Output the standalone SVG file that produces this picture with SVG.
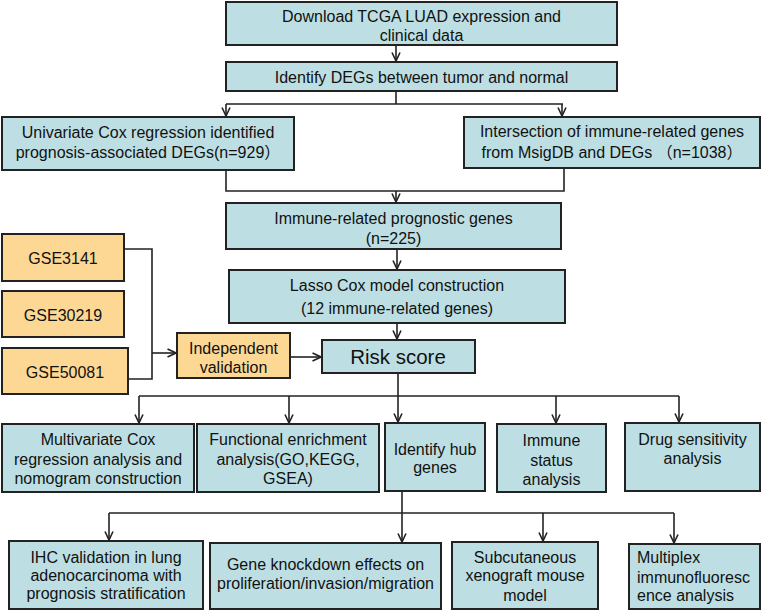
<svg xmlns="http://www.w3.org/2000/svg" width="762" height="612" viewBox="0 0 762 612">
<defs>
<style>
.b{fill:#bddfe3;stroke:#222;stroke-width:2}
.o{fill:#fdd894;stroke:#222;stroke-width:2}
text{font-family:"Liberation Sans",Arial,"Noto Sans CJK SC",sans-serif;font-size:16px;fill:#111;text-anchor:middle}
.c path{fill:none;stroke:#222;stroke-width:1.6}
.a{marker-end:url(#ah)}
</style>
<marker id="ah" viewBox="0 0 10 10" refX="9.5" refY="5" markerWidth="10" markerHeight="10" markerUnits="userSpaceOnUse" orient="auto">
<path d="M1,1 L9.5,5 L1,9" fill="none" stroke="#222" stroke-width="1.6"/>
</marker>
</defs>
<rect width="762" height="612" fill="#fff"/>
<g class="c" id="connectors">
<path class="a" d="M396,45 V61"/>
<path d="M396,91 V104 M226,104 H563"/>
<path class="a" d="M226,104 V116"/>
<path class="a" d="M562,104 V116"/>
<path d="M226,170 V191 H564 V168"/>
<path class="a" d="M396,191 V202"/>
<path class="a" d="M397,249 V269"/>
<path class="a" d="M397,323 V339"/>
<path d="M124,249 H152 V379 H128"/>
<path class="a" d="M152,353 H176"/>
<path class="a" d="M290,357 H321"/>
<path class="a" d="M398,373 V422"/>
<path d="M139,396 H679"/>
<path class="a" d="M139,396 V423"/>
<path class="a" d="M289,396 V423"/>
<path class="a" d="M556,396 V423"/>
<path class="a" d="M679,396 V422"/>
<path class="a" d="M402,491 V542"/>
<path d="M109,513 H674"/>
<path class="a" d="M109,513 V540"/>
<path class="a" d="M543,513 V541"/>
<path class="a" d="M674,513 V543"/>
</g>
<g id="n1"><rect class="b" x="226" y="2" width="391" height="43"/><text x="421.5" y="21.5">Download TCGA LUAD expression and</text><text x="421.5" y="40.5">clinical data</text></g>
<g id="n2"><rect class="b" x="226" y="62" width="391" height="29"/><text x="421.5" y="82.5">Identify DEGs between tumor and normal</text></g>
<g id="n3"><rect class="b" x="2" y="117" width="292" height="53"/><text x="148" y="137.5">Univariate Cox regression identified</text><text x="148" y="157.5">prognosis-associated DEGs(n=929）</text></g>
<g id="n4"><rect class="b" x="464" y="117" width="296" height="51"/><text x="612" y="136.5">Intersection of immune-related genes</text><text x="612" y="157.5">from MsigDB and DEGs （n=1038）</text></g>
<g id="n5"><rect class="b" x="226" y="203" width="335" height="46"/><text x="393.5" y="223.5">Immune-related prognostic genes</text><text x="393.5" y="243.5">(n=225)</text></g>
<g id="n6"><rect class="b" x="229" y="270" width="336" height="53"/><text x="397" y="290.5">Lasso Cox model construction</text><text x="397" y="313.5">(12 immune-related genes)</text></g>
<g id="risk"><rect class="b" x="322" y="340" width="153" height="33"/><text x="398" y="364" style="font-size:20.5px">Risk score</text></g>
<g id="gse3141"><rect class="o" x="2" y="234" width="122" height="47"/><text x="63" y="263.5">GSE3141</text></g>
<g id="gse30219"><rect class="o" x="2" y="291" width="122" height="46"/><text x="63" y="320.5">GSE30219</text></g>
<g id="gse50081"><rect class="o" x="2" y="348" width="126" height="46"/><text x="65" y="377.5">GSE50081</text></g>
<g id="indep"><rect class="o" x="177" y="333" width="113" height="45"/><text x="233.5" y="353.5">Independent</text><text x="233.5" y="372.5">validation</text></g>
<g id="multi"><rect class="b" x="2" y="424" width="192" height="68"/><text x="98" y="445">Multivariate Cox</text><text x="98" y="464.5">regression analysis and</text><text x="98" y="483.5">nomogram construction</text></g>
<g id="func"><rect class="b" x="197" y="424" width="182" height="68"/><text x="288" y="445">Functional enrichment</text><text x="288" y="464.5">analysis(GO,KEGG,</text><text x="288" y="483.5">GSEA)</text></g>
<g id="hub"><rect class="b" x="385" y="423" width="100" height="68"/><text x="435" y="454.5">Identify hub</text><text x="435" y="472.5">genes</text></g>
<g id="immune"><rect class="b" x="497" y="424" width="109" height="68"/><text x="551.5" y="445.5">Immune</text><text x="551.5" y="465.5">status</text><text x="551.5" y="484.5">analysis</text></g>
<g id="drug"><rect class="b" x="625" y="423" width="135" height="68"/><text x="692.5" y="444.5">Drug sensitivity</text><text x="692.5" y="463.5">analysis</text></g>
<g id="ihc"><rect class="b" x="9" y="541" width="194" height="68"/><text x="106" y="562.5">IHC validation in lung</text><text x="106" y="580.5">adenocarcinoma with</text><text x="106" y="598.5">prognosis stratification</text></g>
<g id="knock"><rect class="b" x="210" y="543" width="231" height="66"/><text x="325.5" y="569.5">Gene knockdown effects on</text><text x="325.5" y="588.5">proliferation/invasion/migration</text></g>
<g id="xeno"><rect class="b" x="452" y="542" width="146" height="67"/><text x="525" y="562.5">Subcutaneous</text><text x="525" y="580.5">xenograft mouse</text><text x="525" y="600.5">model</text></g>
<g id="mif"><rect class="b" x="629" y="544" width="131" height="65"/><text x="637" y="563" style="text-anchor:start">Multiplex</text><text x="637" y="582.5" style="text-anchor:start">immunofluoresc</text><text x="637" y="601" style="text-anchor:start">ence analysis</text></g>
</svg>
